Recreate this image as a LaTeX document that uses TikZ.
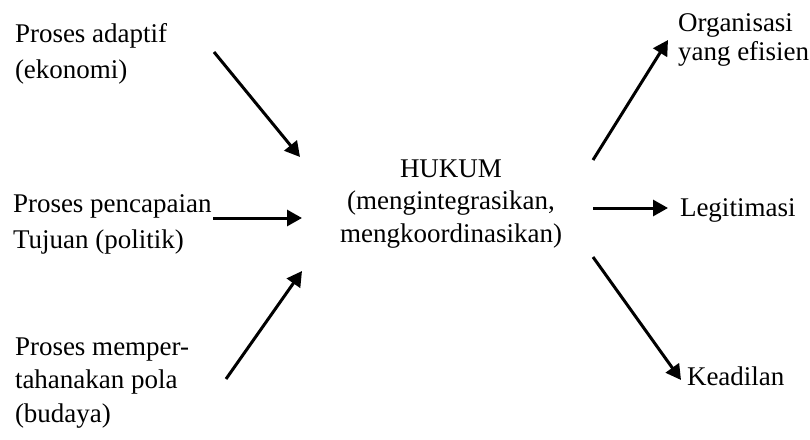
\documentclass[tikz,border=0pt]{standalone}
\usepackage{fontspec}
\setmainfont{Liberation Serif}
\usetikzlibrary{arrows.meta}
\tikzset{
  label text/.style={inner sep=0pt, outer sep=0pt, font=\fontsize{27}{36}\selectfont},
  flow/.style={line width=3pt, -{Triangle[length=15pt,width=16pt]}}
}
\begin{document}
\begin{tikzpicture}[x=1pt,y=-1pt]
  \useasboundingbox[fill=white] (0,0) rectangle (810,439);

  % inputs on the left (anchored on the baseline of the last line)
  \node[label text, anchor=base west, align=left] (adaptif) at (15,78)
    {Proses adaptif\\(ekonomi)};
  \node[label text, anchor=base west, align=left] (tujuan) at (13,248)
    {Proses pencapaian\\Tujuan (politik)};
  \node[label text, anchor=base west, align=left,
        font=\fontsize{27}{33.5}\selectfont] (pola) at (15,422)
    {Proses memper-\\tahanakan pola\\(budaya)};

  % centre
  \node[label text, anchor=base, align=center,
        font=\fontsize{27}{32.5}\selectfont] (hukum) at (451,242)
    {HUKUM\\(mengintegrasikan,\\mengkoordinasikan)};

  % outputs on the right
  \node[label text, anchor=base west, align=left,
        font=\fontsize{27}{29}\selectfont] (organisasi) at (678,60)
    {Organisasi\\yang efisien};
  \node[label text, anchor=base west] (legitimasi) at (680,216) {Legitimasi};
  \node[label text, anchor=base west] (keadilan) at (687,385) {Keadilan};

  % arrow end points
  \coordinate (a1s) at (214,52);  \coordinate (a1e) at (300,157);
  \coordinate (a2s) at (213,218); \coordinate (a2e) at (302,218);
  \coordinate (a3s) at (226,379); \coordinate (a3e) at (302,271);
  \coordinate (b1s) at (593,160); \coordinate (b1e) at (668,40);
  \coordinate (b2s) at (593,208); \coordinate (b2e) at (668,208);
  \coordinate (b3s) at (593,257); \coordinate (b3e) at (681,380);

  \draw[flow] (a1s) -- (a1e);
  \draw[flow] (a2s) -- (a2e);
  \draw[flow] (a3s) -- (a3e);
  \draw[flow] (b1s) -- (b1e);
  \draw[flow] (b2s) -- (b2e);
  \draw[flow] (b3s) -- (b3e);
\end{tikzpicture}
\end{document}
